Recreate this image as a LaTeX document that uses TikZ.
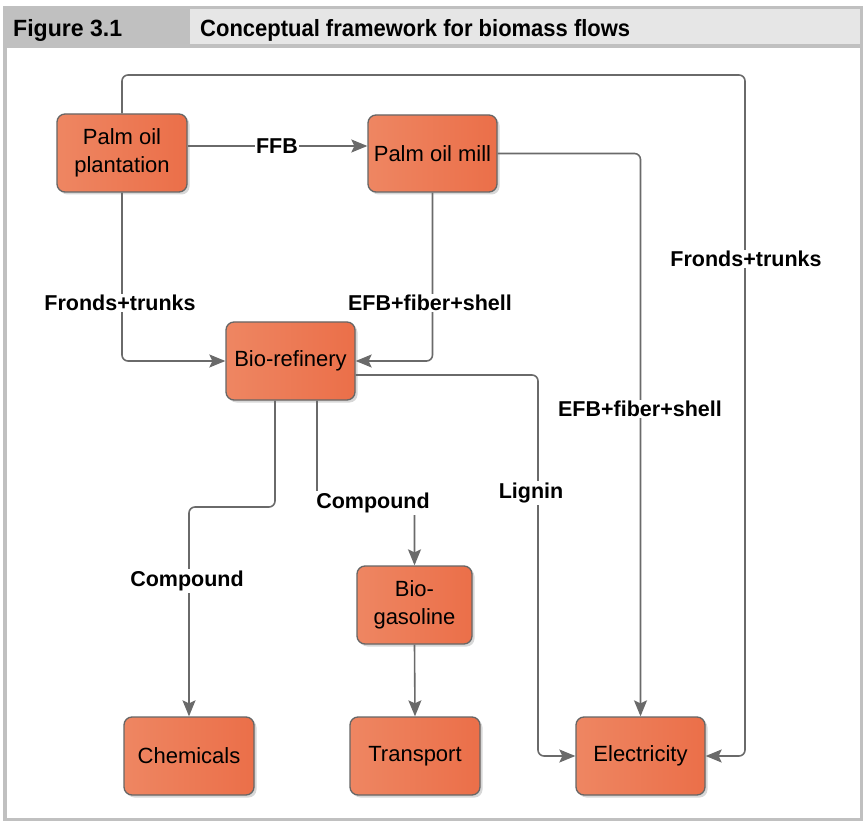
\documentclass[tikz,border=0pt]{standalone}
\usepackage{fontspec}
\setmainfont{Liberation Sans}
\usetikzlibrary{arrows.meta,shadows,calc}
\definecolor{linegray}{HTML}{6A6A6A}
\definecolor{boxedge}{HTML}{666666}
\definecolor{orA}{HTML}{EE8662}
\definecolor{orB}{HTML}{EB6F49}
\definecolor{bandgray}{HTML}{C0C0C0}
\definecolor{celllight}{HTML}{E6E6E6}
\begin{document}
\begin{tikzpicture}[x=1pt,y=-1pt,
 box/.style={draw=boxedge, line width=1.3pt, rounded corners=8pt, left color=orA, right color=orB,
   minimum width=130pt, minimum height=78pt, align=center, inner sep=2pt,
   font=\fontsize{22}{28}\selectfont,
   drop shadow={shadow xshift=2.5pt, shadow yshift=-2.5pt, fill=black!35, opacity=0.45}},
 arr/.style={draw=linegray, line width=1.6pt, rounded corners=6pt, -{Stealth[length=16pt,width=13pt,inset=3pt]}},
 lbl/.style={fill=white, font=\bfseries\fontsize{21.5}{25}\selectfont, inner sep=1.5pt}]
\useasboundingbox (0,0) rectangle (863,821);
% frame
\fill[bandgray] (3,6) rectangle (863,48);
\fill[celllight] (190,9) rectangle (860,44);
\fill[bandgray] (3,48) rectangle (7,821);
\fill[bandgray] (860,48) rectangle (863,821);
\fill[bandgray] (3,818) rectangle (863,821);
\node[anchor=base west, inner sep=0pt, font=\bfseries\fontsize{23.5}{26}\selectfont] (fig) at (13,37) {\resizebox{109pt}{\height}{Figure 3.1}};
\node[anchor=base west, inner sep=0pt, font=\bfseries\fontsize{23.5}{26}\selectfont] (ttl) at (200,37) {\resizebox{430pt}{\height}{Conceptual framework for biomass flows}};
% nodes
\node[box] (pl) at (122,153) {Palm oil\\plantation};
\node[box, minimum width=129pt, minimum height=77pt] (mill) at (432.5,153.5) {Palm oil mill};
\node[box, minimum width=129pt] (bio) at (290.5,361) {Bio-refinery};
\node[box, minimum width=115pt] (gas) at (414.5,605) {Bio-\\gasoline};
\node[box] (chem) at (189,756) {Chemicals};
\node[box] (trans) at (415,756) {Transport};
\node[box, minimum width=129pt] (elec) at (640.5,756) {Electricity};
% helper coordinates
\coordinate (topright) at (745,75);
\coordinate (lg) at (538,375);
\coordinate (cb) at (275,507);
\coordinate (gb) at (317,503);
% connectors
\draw[arr] (pl.east |- 0,146) -- (mill.west |- 0,146);
\draw[arr] (pl.north) |- (topright) |- (elec.east);
\draw[arr] (pl.south) |- (bio.west);
\draw[arr] (mill.south) |- (bio.east);
\draw[arr] (mill.east) -| (elec.north);
\draw[arr] (bio.east |- lg) -| (lg |- elec.west) -- (elec.west);
\draw[arr] (bio.south -| cb) -- (cb) -| (chem.north);
\draw[arr] (bio.south -| gb) -- (gb) -| (gas.north);
\draw[arr] (gas.south) -- (trans.north);
% labels
\node[lbl] (l1) at (277,146) {FFB};
\node[lbl] (l2) at (120,303) {Fronds+trunks};
\node[lbl] (l3) at (430,303) {EFB+fiber+shell};
\node[lbl] (l4) at (746,259) {Fronds+trunks};
\node[lbl] (l5) at (640,409) {EFB+fiber+shell};
\node[lbl] (l6) at (531,493) {Lignin};
\node[lbl] (l7) at (373,503) {Compound};
\node[lbl] (l8) at (187,581) {Compound};
\end{tikzpicture}
\end{document}
